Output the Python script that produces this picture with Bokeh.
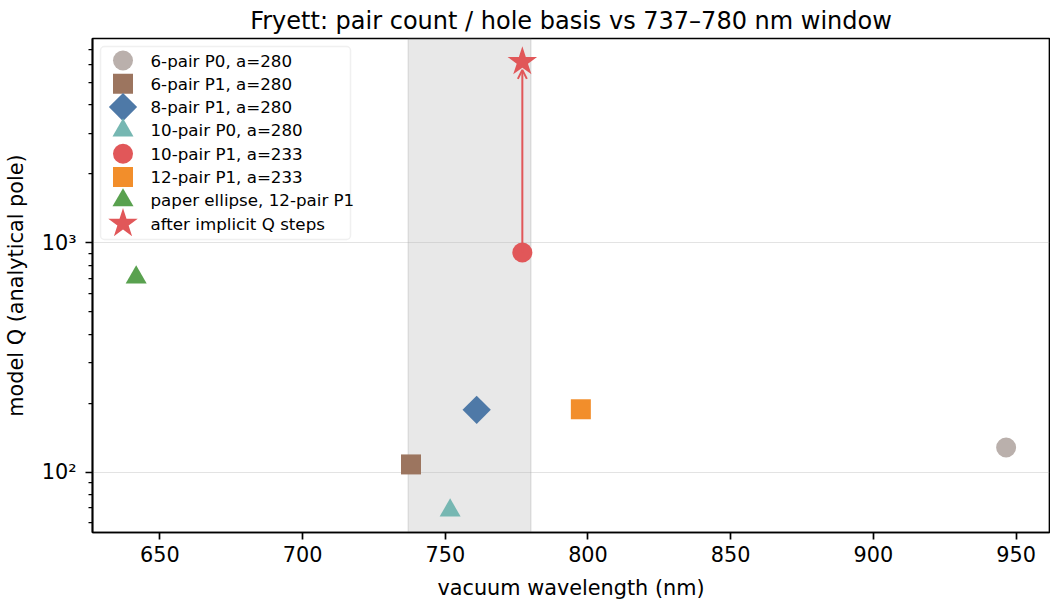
from math import pi
import numpy as np
from bokeh.plotting import figure
from bokeh.models import (Range1d, FixedTicker, BoxAnnotation, Arrow, OpenHead,
                          ColumnDataSource, LinearScale)
from bokeh.core.properties import value
from bokeh.embed import file_html
from bokeh.resources import INLINE

# ---------------- data ----------------
title_text = "Fryett: pair count / hole basis vs 737\u2013780 nm window"
x_label = "vacuum wavelength (nm)"
y_label = "model Q (analytical pole)"

series_labels = ["6-pair P0, a=280", "6-pair P1, a=280", "8-pair P1, a=280",
                 "10-pair P0, a=280", "10-pair P1, a=233", "12-pair P1, a=233",
                 "paper ellipse, 12-pair P1", "after implicit Q steps"]
wavelength_nm = [946.5, 738.0, 761.0, 751.7, 777.0, 797.5, 641.7, 777.0]
model_q = [128, 108, 187, 68, 908, 188, 707, 6170]
series_colors = ["#bab0ac", "#9c755f", "#4e79a7", "#76b7b2",
                 "#e15759", "#f28e2b", "#59a14f", "#e15759"]
series_markers = ["circle", "square", "square", "triangle",
                  "circle", "square", "triangle", "star"]
series_angles = [0, 0, pi / 4, 0, 0, 0, 0, 0]
series_sizes = [20, 20, 20, 21, 20, 20, 21, 31]

window_nm = [737, 780]
arrow_from = 4   # index of "10-pair P1"
arrow_to = 7     # index of "after implicit Q steps"

x_ticks = [650, 700, 750, 800, 850, 900, 950]
y_major = [100, 1000]
y_minor = [60, 70, 80, 90, 200, 300, 400, 500, 600, 700, 800, 900,
           2000, 3000, 4000, 5000, 6000, 7000]
y_tick_labels = {100: "10\u00b2", 1000: "10\u00b3"}

x_limits = (626.4, 961.7)
y_limits = (54.5, 7800)

# ---------------- layout ----------------
W, H = 1050, 608
ML, MR, MT, MB = 92, 1, 38, 76
FW, FH = W - ML - MR, H - MT - MB
FONT = "DejaVu Sans"

p = figure(width=W, height=H, y_axis_type="log",
           x_range=Range1d(*x_limits), y_range=Range1d(*y_limits),
           output_backend="svg", toolbar_location=None,
           min_border_left=ML, min_border_right=MR,
           min_border_top=MT, min_border_bottom=MB)
p.extra_x_ranges = {"px": Range1d(0, FW)}
p.extra_y_ranges = {"py": Range1d(0, FH)}
p.extra_x_scales = {"px": LinearScale()}
p.extra_y_scales = {"py": LinearScale()}

p.title.text = title_text
p.title.align = "center"
p.title.text_font = FONT
p.title.text_font_size = "24px"
p.title.text_font_style = "normal"
p.title.text_color = "black"
p.title.standoff = 8

p.background_fill_color = "white"
p.border_fill_color = "white"
p.outline_line_color = "black"
p.outline_line_width = 1.7

p.xgrid.visible = False
p.ygrid.grid_line_color = "#b0b0b0"
p.ygrid.grid_line_alpha = 0.35
p.ygrid.grid_line_width = 1.2

for ax in (p.xaxis[0], p.yaxis[0]):
    ax.axis_line_width = 1.7
    ax.axis_line_color = "black"
    ax.major_tick_line_width = 1.7
    ax.major_tick_out = 7
    ax.major_tick_in = 0
    ax.minor_tick_line_width = 1.25
    ax.minor_tick_out = 4
    ax.minor_tick_in = 0
    ax.major_label_text_font = FONT
    ax.major_label_text_font_size = "20.8px"
    ax.major_label_text_color = "black"
    ax.axis_label_text_font = FONT
    ax.axis_label_text_font_size = "20.8px"
    ax.axis_label_text_font_style = "normal"
    ax.axis_label_text_color = "black"

p.xaxis.ticker = FixedTicker(ticks=x_ticks, minor_ticks=[])
p.xaxis.major_label_standoff = 6
p.xaxis.axis_label = x_label
p.xaxis.axis_label_standoff = 11

p.yaxis.ticker = FixedTicker(ticks=y_major, minor_ticks=y_minor)
p.yaxis.major_label_overrides = y_tick_labels
p.yaxis.major_label_standoff = 9
p.yaxis.axis_label = y_label
p.yaxis.axis_label_standoff = 11

# shaded wavelength window
p.add_layout(BoxAnnotation(left=window_nm[0], right=window_nm[1],
                           fill_color="#808080", fill_alpha=0.18,
                           line_color="#808080", line_alpha=0.18,
                           line_width=1.5, level="image"))

# data markers
src = ColumnDataSource(dict(x=wavelength_nm, y=model_q, marker=series_markers,
                            size=series_sizes, angle=series_angles,
                            color=series_colors))
p.scatter("x", "y", source=src, marker="marker", size="size", angle="angle",
          fill_color="color", line_color=None)

# arrow from 10-pair P1 to after-implicit-Q star
shrink = 10 ** (-8.0 / 229.0)
p.add_layout(Arrow(end=OpenHead(size=9, line_color="#e15759", line_width=2),
                   x_start=wavelength_nm[arrow_from], y_start=model_q[arrow_from],
                   x_end=wavelength_nm[arrow_to], y_end=model_q[arrow_to] * shrink,
                   line_color="#e15759", line_width=2))

# ---------------- legend (pixel space of the frame) ----------------
leg_left, leg_right, leg_top, leg_bottom = 8, 258, FH - 8, FH - 201
row0, row_step = FH - 22, 23.3
rows = np.arange(len(series_labels))
leg_y = list(row0 - rows * row_step)
p.add_layout(BoxAnnotation(left=leg_left, right=leg_right, top=leg_top,
                           bottom=leg_bottom, x_range_name="px", y_range_name="py",
                           fill_color="white", fill_alpha=0.8,
                           line_color="#cccccc", line_width=1.5,
                           border_radius=4, level="underlay"))
leg_src = ColumnDataSource(dict(x=[30.5] * len(series_labels), y=leg_y,
                                marker=series_markers, size=series_sizes,
                                angle=series_angles, color=series_colors,
                                tx=[58] * len(series_labels), label=series_labels))
p.scatter("x", "y", source=leg_src, marker="marker", size="size", angle="angle",
          fill_color="color", line_color=None,
          x_range_name="px", y_range_name="py")
p.text("tx", "y", text="label", source=leg_src, text_baseline="middle",
       text_align="left", text_font=value(FONT), text_font_size=value("16.7px"),
       text_color="black", x_range_name="px", y_range_name="py")

open("out.html", "w").write(file_html(p, INLINE))
